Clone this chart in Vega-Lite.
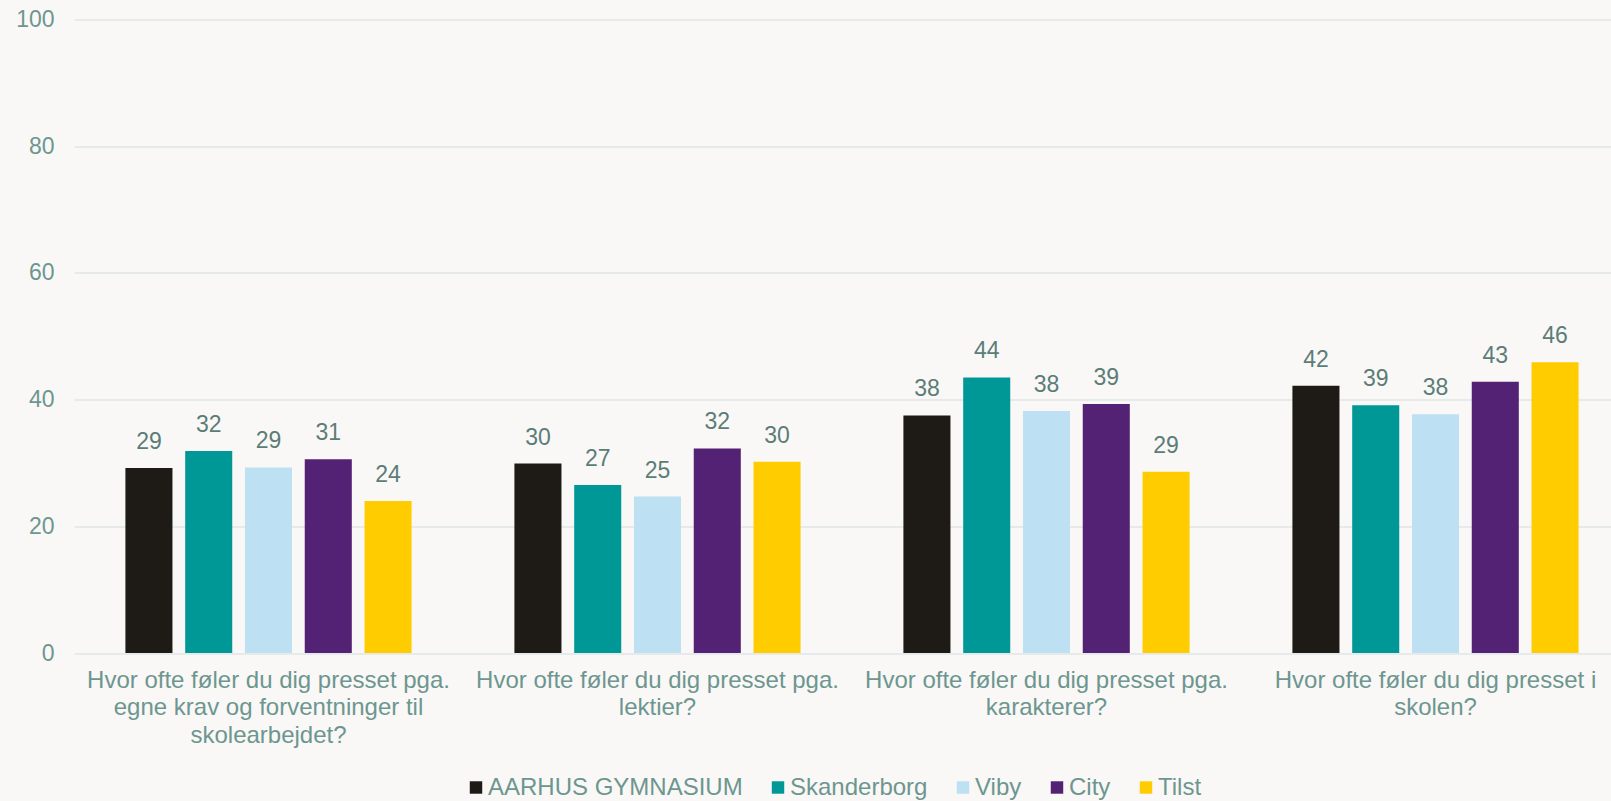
{
  "$schema": "https://vega.github.io/schema/vega-lite/v6.json",
  "width": 1537,
  "height": 633.5,
  "autosize": {"type": "none"},
  "padding": {"left": 74, "top": 19.5, "right": 0, "bottom": 148},
  "background": "#f9f8f6",
  "config": {"view": {"stroke": null}, "font": "Liberation Sans"},
  "data": {
    "values": [
      {"question": "Hvor ofte føler du dig presset pga.|egne krav og forventninger til|skolearbejdet?", "school": "AARHUS GYMNASIUM", "value": 29.2},
      {"question": "Hvor ofte føler du dig presset pga.|egne krav og forventninger til|skolearbejdet?", "school": "Skanderborg", "value": 31.9},
      {"question": "Hvor ofte føler du dig presset pga.|egne krav og forventninger til|skolearbejdet?", "school": "Viby", "value": 29.3},
      {"question": "Hvor ofte føler du dig presset pga.|egne krav og forventninger til|skolearbejdet?", "school": "City", "value": 30.6},
      {"question": "Hvor ofte føler du dig presset pga.|egne krav og forventninger til|skolearbejdet?", "school": "Tilst", "value": 24.0},
      {"question": "Hvor ofte føler du dig presset pga.|lektier?", "school": "AARHUS GYMNASIUM", "value": 29.9},
      {"question": "Hvor ofte føler du dig presset pga.|lektier?", "school": "Skanderborg", "value": 26.5},
      {"question": "Hvor ofte føler du dig presset pga.|lektier?", "school": "Viby", "value": 24.7},
      {"question": "Hvor ofte føler du dig presset pga.|lektier?", "school": "City", "value": 32.3},
      {"question": "Hvor ofte føler du dig presset pga.|lektier?", "school": "Tilst", "value": 30.2},
      {"question": "Hvor ofte føler du dig presset pga.|karakterer?", "school": "AARHUS GYMNASIUM", "value": 37.5},
      {"question": "Hvor ofte føler du dig presset pga.|karakterer?", "school": "Skanderborg", "value": 43.5},
      {"question": "Hvor ofte føler du dig presset pga.|karakterer?", "school": "Viby", "value": 38.2},
      {"question": "Hvor ofte føler du dig presset pga.|karakterer?", "school": "City", "value": 39.3},
      {"question": "Hvor ofte føler du dig presset pga.|karakterer?", "school": "Tilst", "value": 28.6},
      {"question": "Hvor ofte føler du dig presset i|skolen?", "school": "AARHUS GYMNASIUM", "value": 42.2},
      {"question": "Hvor ofte føler du dig presset i|skolen?", "school": "Skanderborg", "value": 39.1},
      {"question": "Hvor ofte føler du dig presset i|skolen?", "school": "Viby", "value": 37.7},
      {"question": "Hvor ofte føler du dig presset i|skolen?", "school": "City", "value": 42.8},
      {"question": "Hvor ofte føler du dig presset i|skolen?", "school": "Tilst", "value": 45.9}
    ]
  },
  "encoding": {
    "x": {
      "field": "question",
      "type": "nominal",
      "sort": null,
      "scale": {"paddingInner": 0, "paddingOuter": 0, "range": [0, 1556]},
      "axis": {
        "title": null,
        "labelAngle": 0,
        "labelExpr": "split(datum.label, '|')",
        "labelFontSize": 24,
        "labelColor": "#6d9690",
        "labelLineHeight": 27.5,
        "labelBaseline": "top",
        "domain": false,
        "ticks": false,
        "labelPadding": 15,
        "labelLimit": 0
      }
    },
    "xOffset": {
      "field": "school",
      "type": "nominal",
      "sort": ["AARHUS GYMNASIUM", "Skanderborg", "Viby", "City", "Tilst"],
      "scale": {"paddingInner": 0.213, "paddingOuter": 0.86}
    },
    "y": {
      "field": "value",
      "type": "quantitative",
      "scale": {"domain": [0, 100]},
      "axis": {
        "title": null,
        "values": [0, 20, 40, 60, 80, 100],
        "labelFontSize": 23,
        "labelColor": "#6d9690",
        "labelPadding": 20,
        "domain": false,
        "ticks": false,
        "gridColor": "#dfe6e6",
        "gridWidth": 1.5
      }
    }
  },
  "layer": [
    {
      "mark": {"type": "bar"},
      "encoding": {
        "color": {
          "field": "school",
          "type": "nominal",
          "scale": {
            "domain": ["AARHUS GYMNASIUM", "Skanderborg", "Viby", "City", "Tilst"],
            "range": ["#1e1b16", "#009797", "#bde0f3", "#532274", "#ffcc00"]
          },
          "legend": {
            "title": null,
            "orient": "none",
            "direction": "horizontal",
            "legendX": 390,
            "legendY": 756,
            "padding": 0,
            "symbolType": "square",
            "symbolSize": 155,
            "symbolStrokeWidth": 0,
            "labelFontSize": 24,
            "labelLimit": 0,
            "labelColor": "#6d9690",
            "labelOffset": 0,
            "columnPadding": 23
          }
        }
      }
    },
    {
      "mark": {"type": "text", "baseline": "bottom", "dy": -14, "fontSize": 23, "color": "#5b7d78"},
      "encoding": {"text": {"field": "value", "type": "quantitative", "format": ".0f"}}
    }
  ]
}
